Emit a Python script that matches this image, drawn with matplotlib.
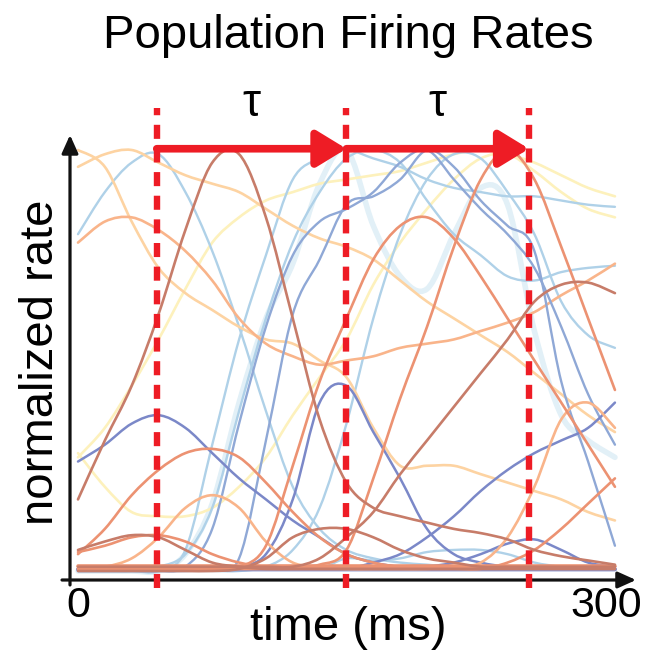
import matplotlib
matplotlib.use('Agg')
import matplotlib.pyplot as plt
from matplotlib.path import Path
from matplotlib.patches import PathPatch

plt.rcParams['font.family'] = ['Liberation Sans', 'DejaVu Sans']

# time axis (ms), one sample every 15 ms
time_ms = [0, 15, 30, 45, 60, 75, 90, 105, 120, 135, 150,
           165, 180, 195, 210, 225, 240, 255, 270, 285, 300]

# normalized firing rates
brown_peak = [0.17, 0.31, 0.44, 0.61, 0.81, 0.97, 0.99, 0.84, 0.60, 0.36, 0.21,
              0.15, 0.13, 0.115, 0.10, 0.09, 0.075, 0.05, 0.035, 0.025, 0.015]
salmon_late_peak = [0.01, 0.01, 0.01, 0.01, 0.01, 0.01, 0.01, 0.01, 0.01, 0.015, 0.05,
                    0.22, 0.41, 0.58, 0.77, 0.93, 1.0, 0.93, 0.77, 0.6, 0.43]
salmon_mid_peak = [0.01, 0.01, 0.01, 0.01, 0.01, 0.01, 0.01, 0.06, 0.25, 0.45, 0.6,
                   0.74, 0.82, 0.84, 0.79, 0.7, 0.6, 0.5, 0.4, 0.3, 0.2]
blue_early = [0.26, 0.3, 0.35, 0.37, 0.34, 0.28, 0.22, 0.17, 0.12, 0.08, 0.04,
              0.02, 0.01, 0.01, 0.01, 0.01, 0.01, 0.01, 0.01, 0.01, 0.01]
salmon_early = [0.04, 0.1, 0.18, 0.24, 0.28, 0.29, 0.27, 0.21, 0.14, 0.08, 0.04,
                0.02, 0.01, 0.01, 0.01, 0.01, 0.01, 0.01, 0.01, 0.01, 0.01]
orange_early = [0.005, 0.01, 0.03, 0.08, 0.15, 0.18, 0.15, 0.07, 0.02, 0.01, 0.005,
                0.005, 0.005, 0.005, 0.005, 0.005, 0.005, 0.005, 0.005, 0.005, 0.005]
brown_small = [0.05, 0.07, 0.085, 0.08, 0.05, 0.02, 0.01, 0.005, 0.005, 0.005, 0.005,
               0.005, 0.005, 0.005, 0.005, 0.005, 0.005, 0.005, 0.005, 0.005, 0.005]
salmon_small = [0.045, 0.06, 0.08, 0.085, 0.07, 0.04, 0.02, 0.01, 0.01, 0.01, 0.01,
                0.01, 0.01, 0.01, 0.01, 0.01, 0.01, 0.01, 0.01, 0.01, 0.01]
brown_bump = [0.0, 0.0, 0.0, 0.0, 0.0, 0.0, 0.005, 0.03, 0.08, 0.1, 0.1,
              0.08, 0.05, 0.03, 0.02, 0.01, 0.01, 0.01, 0.01, 0.01, 0.01]
brown_rise = [0.01, 0.01, 0.01, 0.01, 0.01, 0.01, 0.01, 0.01, 0.01, 0.03, 0.08,
              0.14, 0.23, 0.31, 0.39, 0.47, 0.55, 0.64, 0.68, 0.685, 0.66]
blue_late = [0.005, 0.005, 0.005, 0.005, 0.005, 0.005, 0.005, 0.005, 0.005, 0.005, 0.005,
             0.02, 0.04, 0.08, 0.13, 0.19, 0.24, 0.28, 0.31, 0.34, 0.4]
blue_bump_late = [0.005, 0.005, 0.005, 0.005, 0.005, 0.005, 0.005, 0.005, 0.005, 0.005, 0.005,
                  0.005, 0.005, 0.01, 0.02, 0.04, 0.065, 0.075, 0.05, 0.02, 0.01]
blue_hump = [0.005, 0.005, 0.005, 0.005, 0.005, 0.005, 0.01, 0.04, 0.17, 0.4, 0.44,
             0.33, 0.22, 0.1, 0.04, 0.02, 0.01, 0.01, 0.01, 0.01, 0.01]
blue_top_a = [0.0, 0.0, 0.0, 0.0, 0.0, 0.005, 0.03, 0.31, 0.61, 0.74, 0.87,
              0.89, 0.93, 1.0, 0.96, 0.88, 0.82, 0.76, 0.45, 0.26, 0.06]
blue_top_b = [0.0, 0.0, 0.0, 0.0, 0.01, 0.1, 0.35, 0.58, 0.75, 0.83, 0.86,
              0.9, 0.97, 1.0, 0.93, 0.86, 0.8, 0.72, 0.58, 0.42, 0.3]
lightblue_top_a = [0.0, 0.0, 0.0, 0.0, 0.05, 0.3, 0.55, 0.75, 0.93, 0.98, 1.0,
                   0.98, 0.96, 0.93, 0.91, 0.9, 0.89, 0.89, 0.88, 0.87, 0.865]
lightblue_top_b = [0.0, 0.0, 0.0, 0.01, 0.04, 0.15, 0.38, 0.6, 0.78, 0.9, 0.98,
                   1.0, 0.97, 0.88, 0.8, 0.75, 0.7, 0.69, 0.71, 0.72, 0.725]
paleblue_thick = [0.0, 0.0, 0.0, 0.0, 0.04, 0.16, 0.4, 0.6, 0.73, 0.92, 1.0,
                  0.82, 0.7, 0.67, 0.8, 0.91, 0.87, 0.57, 0.37, 0.31, 0.27]
lightblue_early = [0.8, 0.9, 0.97, 0.99, 0.9, 0.76, 0.58, 0.38, 0.2, 0.1, 0.05,
                   0.03, 0.02, 0.015, 0.01, 0.01, 0.01, 0.01, 0.01, 0.01, 0.01]
lightblue_late = [0.0, 0.0, 0.0, 0.0, 0.0, 0.0, 0.0, 0.01, 0.05, 0.15, 0.35,
                  0.6, 0.8, 0.93, 0.99, 0.98, 0.9, 0.8, 0.64, 0.56, 0.53]
lightblue_low = [0.005, 0.005, 0.005, 0.005, 0.005, 0.005, 0.005, 0.005, 0.005, 0.005, 0.03,
                 0.025, 0.03, 0.045, 0.05, 0.05, 0.04, 0.02, 0.01, 0.005, 0.005]
lightorange_a = [0.96, 0.99, 1.0, 0.97, 0.94, 0.92, 0.9, 0.86, 0.82, 0.79, 0.77,
                 0.74, 0.69, 0.64, 0.6, 0.56, 0.52, 0.47, 0.42, 0.37, 0.33]
lightorange_b = [1.0, 0.96, 0.83, 0.72, 0.66, 0.62, 0.58, 0.55, 0.54, 0.5, 0.46,
                 0.34, 0.25, 0.25, 0.25, 0.23, 0.21, 0.19, 0.17, 0.14, 0.12]
orange_a = [0.78, 0.83, 0.84, 0.81, 0.76, 0.69, 0.6, 0.54, 0.51, 0.49, 0.5,
            0.51, 0.53, 0.54, 0.55, 0.57, 0.59, 0.615, 0.655, 0.69, 0.73]
yellow_a = [0.27, 0.34, 0.44, 0.55, 0.67, 0.78, 0.84, 0.88, 0.9, 0.92, 0.93,
            0.94, 0.95, 0.97, 0.99, 1.0, 0.99, 0.97, 0.94, 0.91, 0.89]
yellow_b = [0.28, 0.2, 0.14, 0.13, 0.13, 0.15, 0.2, 0.27, 0.37, 0.46, 0.55,
            0.68, 0.78, 0.86, 0.93, 0.98, 0.99, 0.95, 0.9, 0.86, 0.84]
orange_late = [0.005, 0.005, 0.005, 0.005, 0.005, 0.005, 0.005, 0.005, 0.005, 0.005, 0.005,
               0.005, 0.005, 0.005, 0.01, 0.02, 0.08, 0.2, 0.36, 0.4, 0.34]
salmon_late_rise = [0.005, 0.005, 0.005, 0.005, 0.005, 0.005, 0.005, 0.005, 0.005, 0.005, 0.005,
                    0.005, 0.005, 0.005, 0.005, 0.005, 0.02, 0.05, 0.1, 0.16, 0.22]
base_blue = [0.004, 0.004, 0.004, 0.004, 0.004, 0.004, 0.004, 0.004, 0.004, 0.004, 0.004,
             0.004, 0.004, 0.004, 0.004, 0.004, 0.004, 0.004, 0.004, 0.004, 0.004]
base_salmon = [0.012, 0.012, 0.012, 0.012, 0.012, 0.012, 0.012, 0.012, 0.012, 0.012, 0.012,
               0.012, 0.012, 0.012, 0.012, 0.012, 0.012, 0.012, 0.012, 0.012, 0.012]

tau_lines = [44, 150, 252]

# colours (RdYlBu-like, washed out)
dark_blue = '#7b88c8'
mid_blue = '#8fa8d6'
light_blue = '#afd1e8'
pale_blue = '#e2f0f7'
pale_yellow = '#fdf1bc'
light_orange = '#fdd3a2'
orange = '#f9b48a'
salmon = '#ec9272'
brown = '#c77c69'
red = '#ee1c25'

curves = [
    (paleblue_thick, pale_blue, 4.0),
    (yellow_a, pale_yellow, 1.9),
    (yellow_b, pale_yellow, 1.9),
    (lightblue_early, light_blue, 1.7),
    (lightblue_top_a, light_blue, 1.7),
    (lightblue_top_b, light_blue, 1.7),
    (lightblue_late, light_blue, 1.7),
    (lightblue_low, light_blue, 1.7),
    (lightorange_a, light_orange, 1.9),
    (lightorange_b, light_orange, 1.9),
    (orange_a, orange, 1.9),
    (blue_top_a, mid_blue, 1.7),
    (blue_top_b, mid_blue, 1.7),
    (blue_early, dark_blue, 1.8),
    (blue_hump, dark_blue, 1.8),
    (blue_late, dark_blue, 1.8),
    (blue_bump_late, dark_blue, 1.8),
    (base_blue, dark_blue, 3.0),
    (orange_early, orange, 1.9),
    (orange_late, orange, 1.9),
    (salmon_early, salmon, 1.9),
    (salmon_small, salmon, 1.9),
    (salmon_mid_peak, salmon, 1.9),
    (salmon_late_peak, salmon, 1.9),
    (salmon_late_rise, salmon, 1.9),
    (base_salmon, salmon, 2.5),
    (brown_small, brown, 1.9),
    (brown_bump, brown, 1.9),
    (brown_rise, brown, 1.9),
    (brown_peak, brown, 1.9),
]


def smooth_path(x, y):
    # Catmull-Rom through the read points, drawn as cubic Bezier segments
    pts = list(zip(x, y))
    n = len(pts)
    verts = [pts[0]]
    codes = [Path.MOVETO]
    for i in range(n - 1):
        p0 = pts[i - 1] if i > 0 else pts[i]
        p1 = pts[i]
        p2 = pts[i + 1]
        p3 = pts[i + 2] if i + 2 < n else pts[i + 1]
        c1 = (p1[0] + (p2[0] - p0[0]) / 6, p1[1] + (p2[1] - p0[1]) / 6)
        c2 = (p2[0] - (p3[0] - p1[0]) / 6, p2[1] - (p3[1] - p1[1]) / 6)
        verts += [c1, c2, p2]
        codes += [Path.CURVE4] * 3
    return Path(verts, codes)


fig = plt.figure(figsize=(6.54, 6.57), dpi=100)
ax = fig.add_axes([70 / 654, 77 / 657, 570 / 654, 450 / 657])
ax.set_xlim(-4.47, 314)
ax.set_ylim(-0.0214, 1.0475)
ax.axis('off')

for vals, col, lw in curves:
    ax.add_patch(PathPatch(smooth_path(time_ms, vals), fill=False, edgecolor=col,
                           lw=lw, capstyle='round', joinstyle='round'))

# dashed markers
for t in tau_lines:
    ax.plot([t, t], [-0.04, 1.10], color=red, lw=4.6, ls=(0, (2.2, 1.5)),
            clip_on=False, zorder=5)

# tau arrows
for a, b in zip(tau_lines[:-1], tau_lines[1:]):
    ax.annotate('', xy=(b, 1.003), xytext=(a, 1.003),
                arrowprops=dict(arrowstyle='-|>,head_length=0.9,head_width=0.55',
                                color=red, lw=5.5, mutation_scale=20,
                                shrinkA=0, shrinkB=0),
                annotation_clip=False, zorder=6)
    ax.text((a + b) / 2, 1.11, 'τ', ha='center', va='center', fontsize=33,
            clip_on=False)

# axes with arrow heads
ax.annotate('', xy=(0, 0.989), xytext=(0, -0.011), xycoords='axes fraction',
            arrowprops=dict(arrowstyle='-|>,head_length=1.0,head_width=0.45',
                            color='#111111', lw=2.3, mutation_scale=11,
                            shrinkA=0, shrinkB=0), annotation_clip=False)
ax.annotate('', xy=(0.993, 0), xytext=(-0.014, 0), xycoords='axes fraction',
            arrowprops=dict(arrowstyle='-|>,head_length=1.0,head_width=0.45',
                            color='#111111', lw=2.3, mutation_scale=11,
                            shrinkA=0, shrinkB=0), annotation_clip=False)

ax.text(0, -0.083, '0', ha='center', va='center', fontsize=31, clip_on=False)
ax.text(295, -0.083, '300', ha='center', va='center', fontsize=31, clip_on=False)

fig.text(348 / 654, 1 - 36 / 657, 'Population Firing Rates', ha='center',
         va='center', fontsize=34)
fig.text(348 / 654, 1 - 628 / 657, 'time (ms)', ha='center', va='center',
         fontsize=34)
fig.text(41 / 654, 1 - 362 / 657, 'normalized rate', ha='center', va='center',
         rotation=90, fontsize=34)

fig.savefig('out.png', dpi=100)
